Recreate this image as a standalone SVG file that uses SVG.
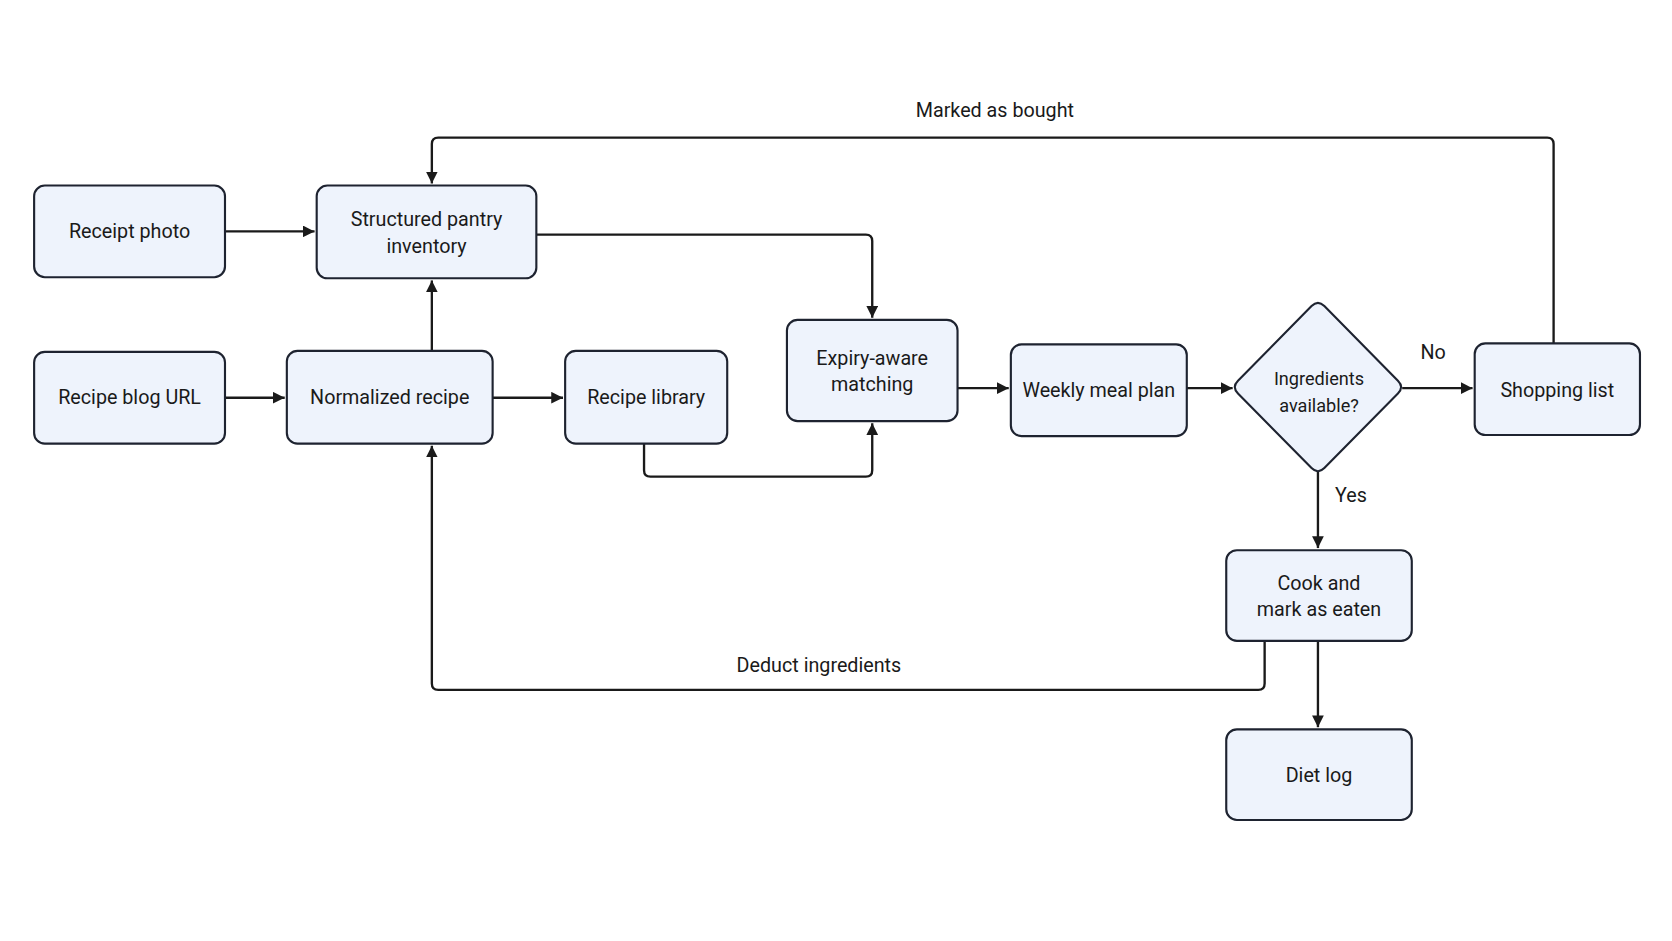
<svg xmlns="http://www.w3.org/2000/svg" width="1672" height="941" viewBox="0 0 1672 941">
<defs>
<marker id="a" viewBox="0 0 10 10" refX="10" refY="5" markerWidth="11" markerHeight="11" markerUnits="userSpaceOnUse" orient="auto"><path d="M0,0L10,5L0,10z" fill="#1a1a1a"/></marker>
<style>
.n{fill:#eef3fc;stroke:#1e2330;stroke-width:2}
.t{font-family:"Roboto","Liberation Sans",sans-serif;font-size:18.5px;fill:#1a1a1a;text-anchor:middle}
.c{fill:none;stroke:#1a1a1a;stroke-width:2.2;stroke-linejoin:round}
</style>
</defs>
<rect width="1672" height="941" fill="#fff"/>
<g transform="scale(1.0663)">
<g id="connectors">
<path class="c" marker-end="url(#a)" d="M211,217H295"/>
<path class="c" marker-end="url(#a)" d="M211,373H267"/>
<path class="c" marker-end="url(#a)" d="M405,329V263"/>
<path class="c" marker-end="url(#a)" d="M462,373H528"/>
<path class="c" marker-end="url(#a)" d="M503,220H812Q818,220 818,226V298"/>
<path class="c" marker-end="url(#a)" d="M604,416V441Q604,447 610,447H812Q818,447 818,441V397"/>
<path class="c" marker-end="url(#a)" d="M898,364H946"/>
<path class="c" marker-end="url(#a)" d="M1113,364H1156"/>
<path class="c" marker-end="url(#a)" d="M1315,364H1381"/>
<path class="c" marker-end="url(#a)" d="M1457,322V135Q1457,129 1451,129H411Q405,129 405,135V172"/>
<path class="c" marker-end="url(#a)" d="M1236,442V514"/>
<path class="c" marker-end="url(#a)" d="M1236,601V682"/>
<path class="c" marker-end="url(#a)" d="M1186,601V641Q1186,647 1180,647H411Q405,647 405,641V418"/>
<text class="t" x="933" y="110">Marked as bought</text>
<text class="t" x="1344" y="337">No</text>
<text class="t" x="1267" y="471">Yes</text>
<text class="t" x="768" y="630">Deduct ingredients</text>
</g>
<g id="receipt"><rect class="n" x="32" y="174" width="179" height="86" rx="10"/><text class="t" x="121.5" y="223">Receipt photo</text></g>
<g id="pantry"><rect class="n" x="297" y="174" width="206" height="87" rx="10"/><text class="t" x="400" y="212">Structured pantry</text><text class="t" x="400" y="237">inventory</text></g>
<g id="url"><rect class="n" x="32" y="330" width="179" height="86" rx="10"/><text class="t" x="121.5" y="379">Recipe blog URL</text></g>
<g id="normalized"><rect class="n" x="269" y="329" width="193" height="87" rx="10"/><text class="t" x="365.5" y="379">Normalized recipe</text></g>
<g id="library"><rect class="n" x="530" y="329" width="152" height="87" rx="10"/><text class="t" x="606" y="379">Recipe library</text></g>
<g id="matching"><rect class="n" x="738" y="300" width="160" height="95" rx="10"/><text class="t" x="818" y="342">Expiry-aware</text><text class="t" x="818" y="367">matching</text></g>
<g id="weekly"><rect class="n" x="948" y="323" width="165" height="86" rx="10"/><text class="t" x="1030.5" y="372">Weekly meal plan</text></g>
<g id="decision"><path class="n" d="M1230,287Q1236,281 1242,287L1311,357Q1317,363 1311,369L1242,439Q1236,445 1230,439L1161,369Q1155,363 1161,357Z"/><text class="t" x="1237" y="361" style="font-size:17px">Ingredients</text><text class="t" x="1237" y="386" style="font-size:17px">available?</text></g>
<g id="shopping"><rect class="n" x="1383" y="322" width="155" height="86" rx="10"/><text class="t" x="1460.5" y="372">Shopping list</text></g>
<g id="cook"><rect class="n" x="1150" y="516" width="174" height="85" rx="10"/><text class="t" x="1237" y="553">Cook and</text><text class="t" x="1237" y="578">mark as eaten</text></g>
<g id="diet"><rect class="n" x="1150" y="684" width="174" height="85" rx="10"/><text class="t" x="1237" y="733">Diet log</text></g>
</g>
</svg>
